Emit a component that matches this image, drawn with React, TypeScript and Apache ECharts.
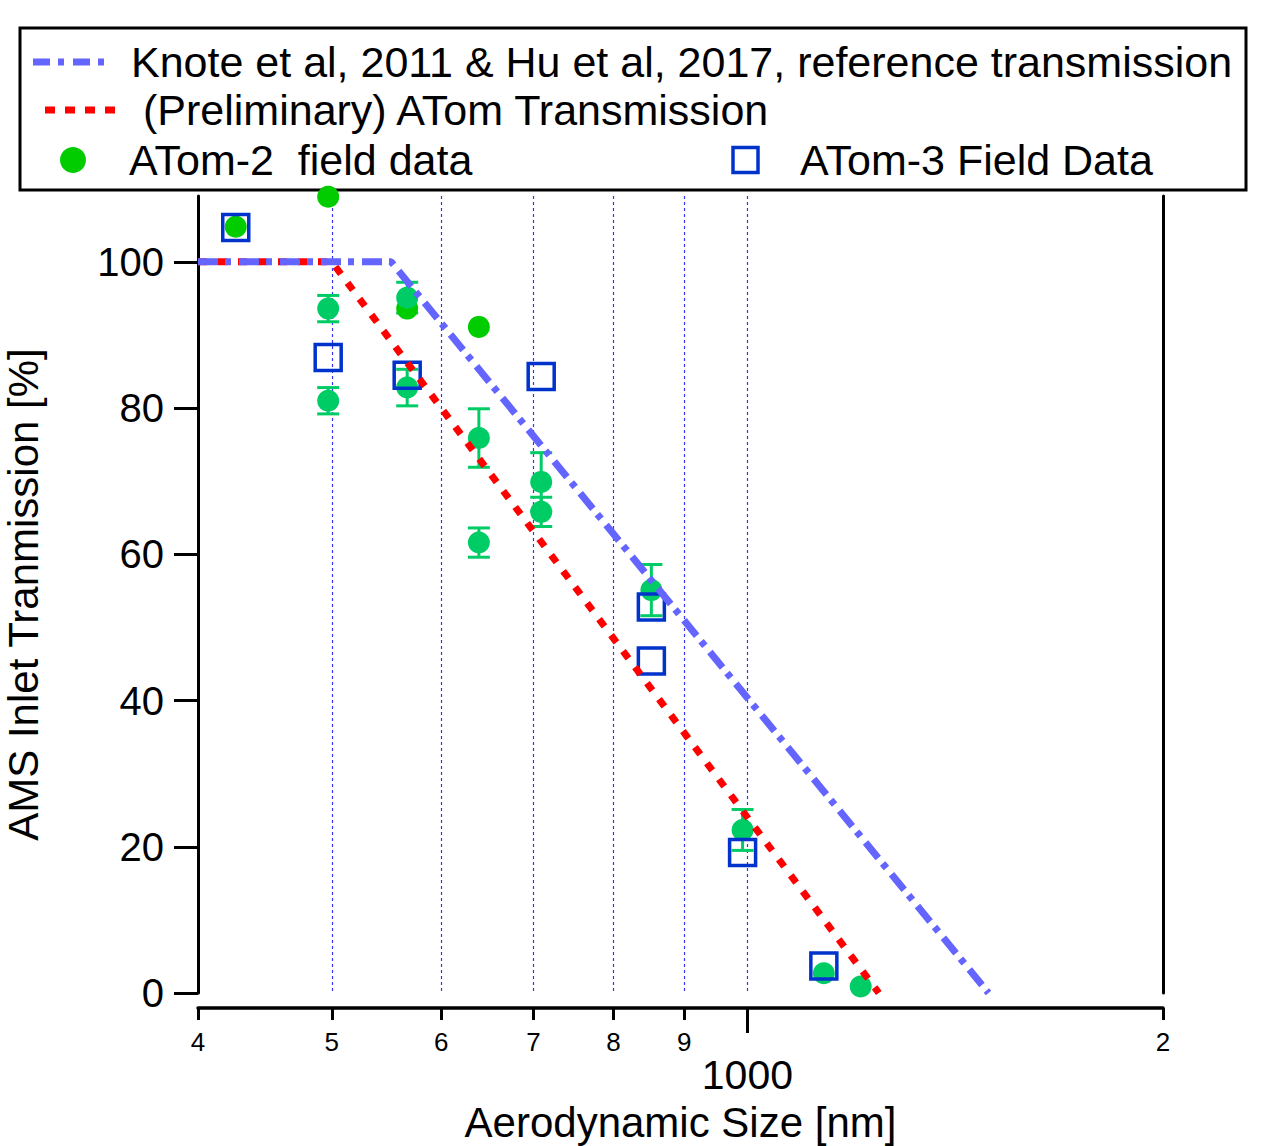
import React, { useEffect, useRef } from 'react';
import * as echarts from 'echarts';

// ---- Data ----
const X_MIN = 400;
const X_MAX = 2000;
const Y_MIN = 0;
const Y_MAX = 109;

const X_MINOR_TICKS = [400, 500, 600, 700, 800, 900, 2000];
const X_MINOR_LABELS = ['4', '5', '6', '7', '8', '9', '2'];
const X_MAJOR_TICKS = [1000];
const X_MAJOR_LABELS = ['1000'];
const X_GRID_LINES = [500, 600, 700, 800, 900, 1000];
const Y_TICKS = [0, 20, 40, 60, 80, 100];

const KNOTE_X = [400, 552, 1495];
const KNOTE_Y = [100, 100, 0];
const ATOM_TX_X = [400, 500, 1245];
const ATOM_TX_Y = [100, 100, 0];

// ATom-2 points drawn without error bars
const ATOM2_A_X = [426, 497, 567, 639];
const ATOM2_A_Y = [104.8, 108.9, 93.6, 91.1];
// ATom-2 points with error bars
const ATOM2_B_X = [497, 497, 567, 567, 639, 639, 709, 709, 852, 992, 1136, 1208];
const ATOM2_B_Y = [93.6, 81.0, 95.1, 82.8, 75.9, 61.6, 69.9, 65.8, 55.1, 22.3, 2.7, 0.9];
const ATOM2_B_ERR = [1.8, 1.8, 2.1, 2.5, 4.0, 2.0, 4.0, 2.0, 3.5, 2.8, 0, 0];

const ATOM3_X = [426, 497, 567, 709, 852, 852, 992, 1136];
const ATOM3_Y = [104.7, 86.9, 84.5, 84.3, 52.8, 45.4, 19.2, 3.7];

const LEGEND_TEXTS = [
  'Knote et al, 2011 & Hu et al, 2017, reference transmission',
  '(Preliminary) ATom Transmission',
  'ATom-2  field data',
  'ATom-3 Field Data',
];

const FONT = "'Liberation Sans', Arial, sans-serif";
const lg = (v: number) => Math.log10(v);

function labelFor(v: number, ticks: number[], labels: string[]) {
  const raw = Math.pow(10, v);
  let best = 0;
  let bd = Infinity;
  ticks.forEach((t, i) => {
    const d = Math.abs(t - raw);
    if (d < bd) { bd = d; best = i; }
  });
  return labels[best];
}

export default function App() {
  const ref = useRef<HTMLDivElement>(null);

  useEffect(() => {
    if (!ref.current) return;
    const chart = echarts.init(ref.current, undefined, { renderer: 'svg' });

    const zip = (xs: number[], ys: number[]) => xs.map((x, i) => [x, ys[i]]);
    const errData = ATOM2_B_X.map((x, i) => [x, ATOM2_B_Y[i], ATOM2_B_ERR[i]]);

    const commonValueX = {
      type: 'value',
      min: lg(X_MIN),
      max: lg(X_MAX),
      position: 'bottom',
      offset: 15,
      splitLine: { show: false },
    };

    const option: any = {
      animation: false,
      grid: {
        left: 198,
        right: 109,
        top: 196,
        bottom: 153,
        containLabel: false,
        outerBoundsMode: 'none',
      },
      xAxis: [
        {
          type: 'log',
          logBase: 10,
          min: X_MIN,
          max: X_MAX,
          position: 'bottom',
          show: false,
        },
        {
          ...commonValueX,
          axisLine: { show: true, onZero: false, lineStyle: { color: '#000', width: 3.5 } },
          axisTick: {
            show: true,
            inside: false,
            customValues: X_MINOR_TICKS.map(lg),
            length: 12,
            lineStyle: { color: '#000', width: 3 },
          },
          axisLabel: {
            show: true,
            customValues: X_MINOR_TICKS.map(lg),
            formatter: (v: number) => labelFor(v, X_MINOR_TICKS, X_MINOR_LABELS),
            fontSize: 26,
            fontFamily: FONT,
            color: '#000',
            margin: 21,
          },
          name: 'Aerodynamic Size [nm]',
          nameLocation: 'middle',
          nameGap: 93,
          nameTextStyle: { fontSize: 42, fontFamily: FONT, color: '#000' },
        },
        {
          ...commonValueX,
          axisLine: { show: false, onZero: false },
          axisTick: {
            show: true,
            inside: false,
            customValues: X_MAJOR_TICKS.map(lg),
            length: 25,
            lineStyle: { color: '#000', width: 3 },
          },
          axisLabel: {
            show: true,
            customValues: X_MAJOR_TICKS.map(lg),
            formatter: (v: number) => labelFor(v, X_MAJOR_TICKS, X_MAJOR_LABELS),
            fontSize: 41,
            fontFamily: FONT,
            color: '#000',
            margin: 46,
          },
        },
        {
          type: 'value',
          min: lg(X_MIN),
          max: lg(X_MAX),
          position: 'bottom',
          axisLine: { show: false, onZero: false },
          axisTick: { show: false, customValues: X_GRID_LINES.map(lg) },
          axisLabel: { show: false },
          splitLine: {
            show: true,
            lineStyle: { color: '#3333ff', width: 1.2, type: [3, 3] },
          },
        },
      ],
      yAxis: [
        {
          type: 'value',
          min: Y_MIN,
          max: Y_MAX,
          position: 'left',
          axisLine: { show: true, onZero: false, lineStyle: { color: '#000', width: 3 } },
          axisTick: {
            show: true,
            inside: false,
            customValues: Y_TICKS,
            length: 24,
            lineStyle: { color: '#000', width: 3 },
          },
          axisLabel: {
            show: true,
            customValues: Y_TICKS,
            fontSize: 40,
            fontFamily: FONT,
            color: '#000',
            margin: 34,
          },
          splitLine: { show: false },
          name: 'AMS Inlet Tranmission [%]',
          nameLocation: 'middle',
          nameRotate: 90,
          nameGap: 154,
          nameTextStyle: { fontSize: 42, fontFamily: FONT, color: '#000' },
        },
        {
          type: 'value',
          min: Y_MIN,
          max: Y_MAX,
          position: 'right',
          axisLine: { show: true, onZero: false, lineStyle: { color: '#000', width: 3 } },
          axisTick: { show: false },
          axisLabel: { show: false },
          splitLine: { show: false },
        },
      ],
      series: [
        {
          name: 'ATom-2 field data',
          type: 'scatter',
          xAxisIndex: 0,
          yAxisIndex: 0,
          symbol: 'circle',
          symbolSize: 22,
          itemStyle: { color: '#00cc00', opacity: 1 },
          data: zip(ATOM2_A_X, ATOM2_A_Y),
        },
        {
          name: 'ATom-2 field data (err)',
          type: 'scatter',
          xAxisIndex: 0,
          yAxisIndex: 0,
          symbol: 'circle',
          symbolSize: 22,
          itemStyle: { color: '#00cc66', opacity: 1 },
          data: zip(ATOM2_B_X, ATOM2_B_Y),
        },
        {
          name: 'error bars',
          type: 'custom',
          xAxisIndex: 0,
          yAxisIndex: 0,
          encode: { x: 0, y: 1 },
          data: errData,
          renderItem: (params: any, api: any) => {
            const x = api.value(0);
            const y = api.value(1);
            const e = api.value(2);
            if (!e) return { type: 'group', children: [] };
            const top = api.coord([x, y + e]);
            const bot = api.coord([x, y - e]);
            const hw = 11;
            const style = { stroke: '#00cc66', lineWidth: 3 };
            return {
              type: 'group',
              children: [
                { type: 'line', shape: { x1: top[0], y1: top[1], x2: bot[0], y2: bot[1] }, style },
                { type: 'line', shape: { x1: top[0] - hw, y1: top[1], x2: top[0] + hw, y2: top[1] }, style },
                { type: 'line', shape: { x1: bot[0] - hw, y1: bot[1], x2: bot[0] + hw, y2: bot[1] }, style },
              ],
            };
          },
        },
        {
          name: 'ATom-3 Field Data',
          type: 'scatter',
          xAxisIndex: 0,
          yAxisIndex: 0,
          symbol: 'rect',
          symbolSize: 26,
          itemStyle: { color: 'rgba(0,0,0,0)', borderColor: '#0033cc', borderWidth: 3.5, opacity: 1 },
          data: zip(ATOM3_X, ATOM3_Y),
        },
        {
          name: '(Preliminary) ATom Transmission',
          type: 'line',
          xAxisIndex: 0,
          yAxisIndex: 0,
          symbol: 'none',
          lineStyle: { color: '#ff0000', width: 7, type: [9, 11], cap: 'butt' },
          data: zip(ATOM_TX_X, ATOM_TX_Y),
        },
        {
          name: 'Knote et al, 2011 & Hu et al, 2017, reference transmission',
          type: 'line',
          xAxisIndex: 0,
          yAxisIndex: 0,
          symbol: 'none',
          lineStyle: { color: '#6464ff', width: 7, type: [20, 7, 6, 8], cap: 'butt' },
          data: zip(KNOTE_X, KNOTE_Y),
        },
      ],
      graphic: [
        {
          type: 'group',
          z: 100,
          children: [
            {
              type: 'rect',
              shape: { x: 20, y: 28, width: 1226, height: 162 },
              style: { fill: '#fff', stroke: '#000', lineWidth: 3 },
            },
            {
              type: 'line',
              shape: { x1: 33, y1: 62, x2: 105, y2: 62 },
              style: { stroke: '#6464ff', lineWidth: 7, lineDash: [17, 8, 6, 9] },
            },
            {
              type: 'line',
              shape: { x1: 45, y1: 110, x2: 117, y2: 110 },
              style: { stroke: '#ff0000', lineWidth: 7, lineDash: [10, 10] },
            },
            {
              type: 'circle',
              shape: { cx: 73, cy: 160, r: 13 },
              style: { fill: '#00cc00' },
            },
            {
              type: 'rect',
              shape: { x: 733, y: 147.5, width: 25, height: 25 },
              style: { fill: 'none', stroke: '#0033cc', lineWidth: 3.5 },
            },
            {
              type: 'text',
              style: { text: LEGEND_TEXTS[0], x: 131, y: 62, fontSize: 43, fontFamily: FONT, fill: '#000', verticalAlign: 'middle' },
            },
            {
              type: 'text',
              style: { text: LEGEND_TEXTS[1], x: 143, y: 110, fontSize: 43, fontFamily: FONT, fill: '#000', verticalAlign: 'middle' },
            },
            {
              type: 'text',
              style: { text: LEGEND_TEXTS[2], x: 129, y: 160, fontSize: 43, fontFamily: FONT, fill: '#000', verticalAlign: 'middle' },
            },
            {
              type: 'text',
              style: { text: LEGEND_TEXTS[3], x: 800, y: 160, fontSize: 43, fontFamily: FONT, fill: '#000', verticalAlign: 'middle' },
            },
          ],
        },
      ],
    };

    chart.setOption(option);
    return () => chart.dispose();
  }, []);

  return (
    <div
      ref={ref}
      style={{ position: 'absolute', left: 0, top: 0, width: 1272, height: 1146, background: '#fff' }}
    />
  );
}
